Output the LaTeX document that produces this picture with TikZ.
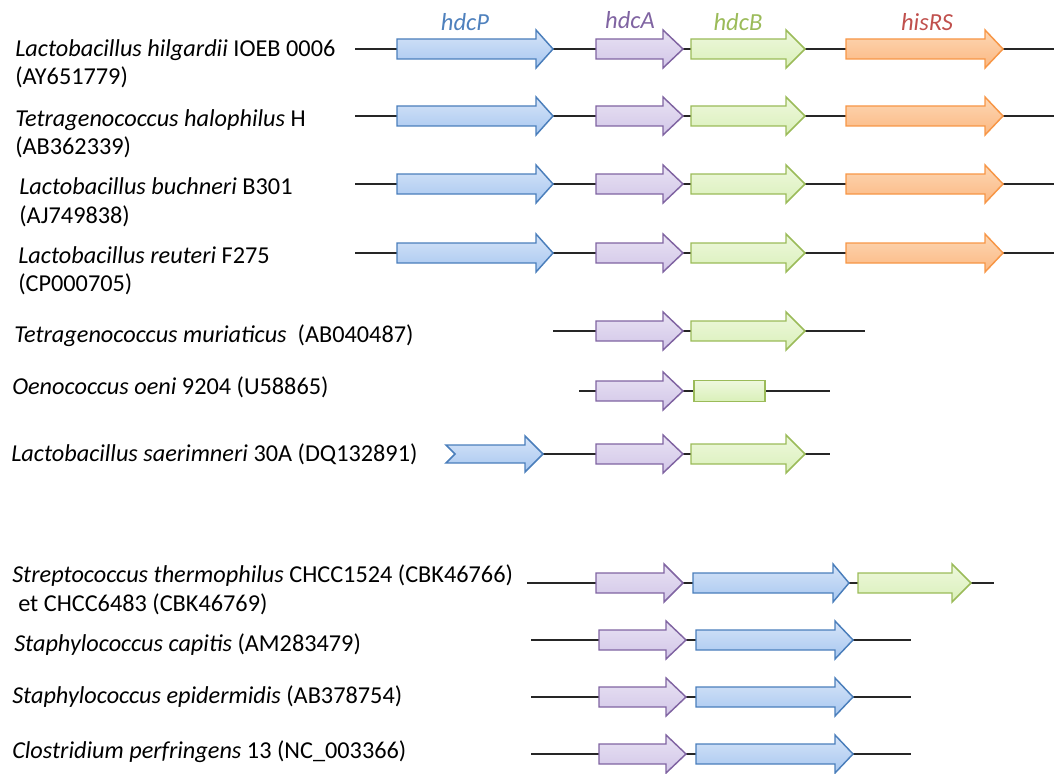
\documentclass[tikz,border=0pt]{standalone}
\usepackage{fontspec}
\setmainfont{Carlito}
\begin{document}
\begin{tikzpicture}[x=0.75pt,y=-0.75pt,
  lab/.style={anchor=base west,inner sep=0pt,font=\fontsize{18.2}{20}\selectfont},
  glab/.style={anchor=base,inner sep=0pt,font=\fontsize{18.4}{20}\selectfont\itshape},
  backbone/.style={line width=1.1pt,black!85},
  gP/.style={draw={rgb,255:red,74;green,126;blue,187},line width=1.1pt,top color={rgb,255:red,214;green,228;blue,248},bottom color={rgb,255:red,167;green,199;blue,240}},
  gA/.style={draw={rgb,255:red,128;green,100;blue,162},line width=1.1pt,top color={rgb,255:red,232;green,226;blue,243},bottom color={rgb,255:red,210;green,198;blue,232}},
  gB/.style={draw={rgb,255:red,155;green,187;blue,89},line width=1.1pt,top color={rgb,255:red,238;green,248;blue,222},bottom color={rgb,255:red,218;green,240;blue,185}},
  gR/.style={draw={rgb,255:red,247;green,150;blue,70},line width=1.1pt,top color={rgb,255:red,253;green,215;blue,180},bottom color={rgb,255:red,251;green,184;blue,130}},
]
\useasboundingbox (0,0) rectangle (1054,774);
\newcommand{\genearrow}[5]{%
  \draw[#5] (#1,#4-10) -- (#2,#4-10) -- (#2,#4-19) -- (#3,#4) -- (#2,#4+19) -- (#2,#4+10) -- (#1,#4+10) -- cycle;}

% gene labels
\node[glab,text={rgb,255:red,79;green,129;blue,189}] (tP) at (465,31) {hdcP};
\node[glab,text={rgb,255:red,128;green,100;blue,162}] (tA) at (630,29) {hdcA};
\node[glab,text={rgb,255:red,155;green,187;blue,89}] (tB) at (738,31) {hdcB};
\node[glab,text={rgb,255:red,192;green,80;blue,77}] (tR) at (927,31) {hisRS};

% rows 1-4
\foreach \y in {49,116,184,253}{
  \draw[backbone] (355,\y) -- (1054,\y);
  \genearrow{397}{536}{553}{\y}{gP}
  \genearrow{596}{663}{683}{\y}{gA}
  \genearrow{691}{786}{805}{\y}{gB}
  \genearrow{846}{985}{1003}{\y}{gR}
}
% row 5
\draw[backbone] (553,331) -- (865,331);
\genearrow{596}{663}{683}{331}{gA}
\genearrow{691}{786}{805}{331}{gB}
% row 6
\draw[backbone] (579,391) -- (830,391);
\genearrow{596}{663}{683}{391}{gA}
\draw[gB] (694,380.5) rectangle (765,401.5);
% row 7
\draw[backbone] (543,454) -- (830,454);
\draw[gP] (446,445) -- (525,445) -- (525,436) -- (543,454) -- (525,472) -- (525,463) -- (446,463) -- (455,454) -- cycle;
\genearrow{596}{663}{683}{454}{gA}
\genearrow{691}{786}{805}{454}{gB}
% row 8
\draw[backbone] (527,583) -- (994,583);
\genearrow{596}{664}{683}{583}{gA}
\genearrow{693}{833}{849}{583}{gP}
\genearrow{858}{952}{971}{583}{gB}
% rows 9-11
\foreach \y in {640,697,754}{
  \draw[backbone] (531,\y) -- (911,\y);
  \genearrow{599}{666}{686}{\y}{gA}
  \genearrow{696}{835}{853}{\y}{gP}
}

% species labels
\node[lab] (s1a) at (15,57) {\textit{Lactobacillus hilgardii} IOEB 0006};
\node[lab] (s1b) at (15,85) {(AY651779)};
\node[lab] (s2a) at (15,127) {\textit{Tetragenococcus halophilus} H};
\node[lab] (s2b) at (15,155) {(AB362339)};
\node[lab] (s3a) at (19,195) {\textit{Lactobacillus buchneri} B301};
\node[lab] (s3b) at (19,223) {(AJ749838)};
\node[lab] (s4a) at (18,263) {\textit{Lactobacillus reuteri} F275};
\node[lab] (s4b) at (18,291) {(CP000705)};
\node[lab] (s5) at (14,342) {\textit{Tetragenococcus muriaticus}\ \ (AB040487)};
\node[lab] (s6) at (12,394) {\textit{Oenococcus oeni} 9204 (U58865)};
\node[lab] (s7) at (11,461) {\textit{Lactobacillus saerimneri} 30A (DQ132891)};
\node[lab] (s8a) at (12,582) {\textit{Streptococcus thermophilus} CHCC1524 (CBK46766)};
\node[lab] (s8b) at (18,611) {et CHCC6483 (CBK46769)};
\node[lab] (s9) at (14,651) {\textit{Staphylococcus capitis} (AM283479)};
\node[lab] (s10) at (12,703) {\textit{Staphylococcus epidermidis} (AB378754)};
\node[lab] (s11) at (12,758) {\textit{Clostridium perfringens} 13 (NC\_003366)};
\end{tikzpicture}
\end{document}
